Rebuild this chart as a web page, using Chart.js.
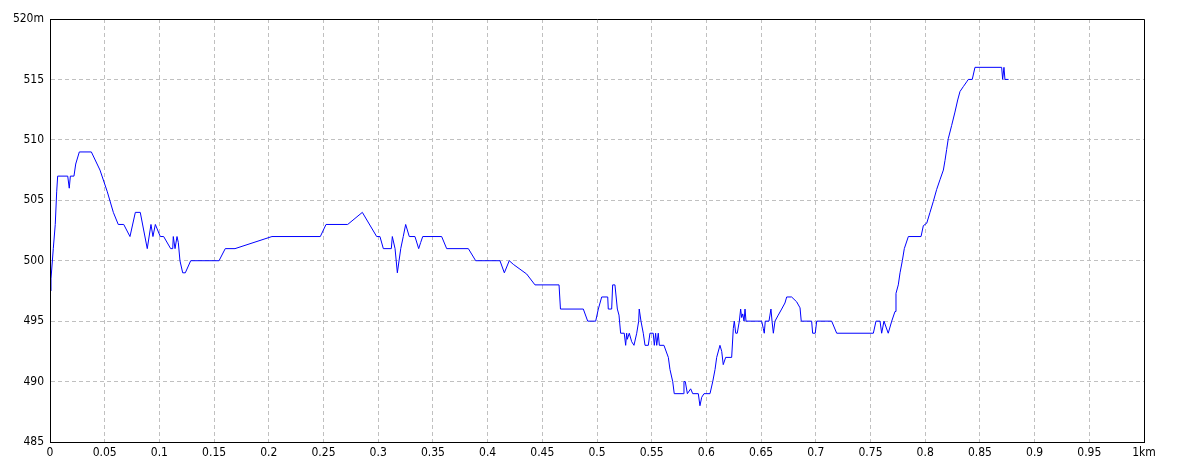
<!DOCTYPE html>
<html>
<head>
<meta charset="utf-8">
<script src="https://cdn.jsdelivr.net/npm/chart.js@4/dist/chart.umd.min.js"></script>
<style>
  html, body { margin: 0; padding: 0; background: #fff; }
  canvas { display: block; }
</style>
</head>
<body>
<canvas id="profileChart" width="1184" height="473"></canvas>
<script>
// distance along the track (km)
const distKm = [
  0.0003, 0.0009, 0.0030, 0.0048, 0.0061, 0.0070, 0.0162, 0.0176, 0.0186, 0.0219,
  0.0235, 0.0268, 0.0378, 0.0457, 0.0524, 0.0579, 0.0624, 0.0674, 0.0731, 0.0780,
  0.0825, 0.0889, 0.0923, 0.0941, 0.0963, 0.1008, 0.1039, 0.1103, 0.1122, 0.1127,
  0.1143, 0.1161, 0.1173, 0.1188, 0.1213, 0.1237, 0.1286, 0.1545, 0.1602, 0.1691,
  0.2029, 0.2471, 0.2523, 0.2721, 0.2855, 0.2986, 0.3016, 0.3047, 0.3120, 0.3129,
  0.3154, 0.3175, 0.3206, 0.3229, 0.3251, 0.3284, 0.3336, 0.3370, 0.3388, 0.3407,
  0.3580, 0.3626, 0.3824, 0.3891, 0.4113, 0.4153, 0.4198, 0.4235, 0.4296, 0.4357,
  0.4433, 0.4653, 0.4666, 0.4875, 0.4915, 0.4988, 0.5012, 0.5043, 0.5098, 0.5103,
  0.5134, 0.5143, 0.5164, 0.5186, 0.5201, 0.5216, 0.5249, 0.5262, 0.5271, 0.5277,
  0.5295, 0.5317, 0.5338, 0.5363, 0.5381, 0.5386, 0.5402, 0.5423, 0.5439, 0.5469,
  0.5484, 0.5514, 0.5524, 0.5536, 0.5546, 0.5560, 0.5570, 0.5612, 0.5652, 0.5667,
  0.5692, 0.5706, 0.5789, 0.5795, 0.5807, 0.5826, 0.5856, 0.5875, 0.5926, 0.5941,
  0.5957, 0.5978, 0.6033, 0.6058, 0.6079, 0.6094, 0.6124, 0.6140, 0.6154, 0.6176,
  0.6231, 0.6246, 0.6255, 0.6268, 0.6282, 0.6301, 0.6313, 0.6322, 0.6332, 0.6344,
  0.6353, 0.6362, 0.6505, 0.6520, 0.6529, 0.6538, 0.6572, 0.6581, 0.6590, 0.6600,
  0.6612, 0.6627, 0.6657, 0.6688, 0.6718, 0.6734, 0.6779, 0.6825, 0.6856, 0.6867,
  0.6962, 0.6971, 0.6995, 0.7008, 0.7145, 0.7191, 0.7526, 0.7550, 0.7587, 0.7602,
  0.7623, 0.7662, 0.7694, 0.7724, 0.7733, 0.7754, 0.7770, 0.7791, 0.7809, 0.7846,
  0.7962, 0.7983, 0.8014, 0.8044, 0.8074, 0.8105, 0.8135, 0.8166, 0.8181, 0.8196,
  0.8211, 0.8242, 0.8272, 0.8297, 0.8318, 0.8348, 0.8379, 0.8394, 0.8430, 0.8455,
  0.8699, 0.8708, 0.8720, 0.8729, 0.8762
];

// elevation (m)
const elevM = [
  497.5, 498.5, 501, 503, 505.7, 507, 507, 506, 507, 507,
  508, 509, 509, 507.5, 505.7, 504, 503, 503, 502, 504,
  504, 501, 503, 502, 503, 502, 502, 501, 501, 502,
  501, 502, 501.5, 500, 499, 499, 500, 500, 501, 501,
  502, 502, 503, 503, 504, 502, 502, 501, 501, 502,
  501, 499, 501, 502, 503, 502, 502, 501, 501.5, 502,
  502, 501, 501, 500, 500, 499, 500, 499.7, 499.3, 498.9,
  498, 498, 496, 496, 495, 495, 496, 497, 497, 496,
  496, 498, 498, 496, 495.5, 494, 494, 493, 494, 493.5,
  494, 493.3, 493, 494, 495, 496, 495, 494, 493, 493,
  494, 494, 493, 494, 493, 494, 493, 493, 492, 491,
  490, 489, 489, 490, 490, 489, 489.4, 489, 489, 488,
  488.7, 489, 489, 490, 491, 492, 493, 492.5, 491.4, 492,
  492, 494.4, 495, 494, 494, 495, 496, 495.3, 495.6, 495,
  496, 495, 495, 494.4, 494, 495, 495, 495.5, 496, 495,
  494, 495, 495.5, 496, 496.5, 497, 497, 496.6, 496.1, 495,
  495, 494, 494, 495, 495, 494, 494, 495, 495, 494,
  495, 494, 495, 495.8, 497.3, 498, 499, 500, 501, 502,
  502, 502.9, 503.1, 504, 504.9, 505.9, 506.7, 507.5, 508.3, 509.2,
  510.1, 511.2, 512.3, 513.3, 514, 514.4, 514.8, 515, 515, 516,
  516, 515, 516, 515, 515
];

const xMin = 0, xMax = 1, xStep = 0.05;
const yMin = 485, yMax = 520, yStep = 5;

const labelFont = { family: '"Liberation Sans Narrow", "DejaVu Sans Condensed", sans-serif', size: 12 };

// top/right frame around the plot
const framePlugin = {
  id: 'frame',
  afterDraw(chart) {
    const { ctx, chartArea: a } = chart;
    ctx.save();
    ctx.strokeStyle = '#000';
    ctx.lineWidth = 1;
    ctx.beginPath();
    ctx.rect(a.left + 0.5, a.top + 0.5, a.right - a.left, a.bottom - a.top);
    ctx.stroke();
    ctx.restore();
  }
};

const fmt = (v) => String(Number(v.toFixed(2)));

new Chart(document.getElementById('profileChart'), {
  type: 'scatter',
  data: {
    datasets: [{
      data: distKm.map((d, i) => ({ x: d, y: elevM[i] })),
      showLine: true,
      borderColor: '#0000ff',
      borderWidth: 1,
      pointRadius: 0,
      tension: 0,
      fill: false
    }]
  },
  options: {
    responsive: false,
    animation: false,
    layout: { padding: { top: 19, right: 40, left: 0, bottom: 0 } },
    plugins: {
      legend: { display: false },
      tooltip: { enabled: false }
    },
    scales: {
      x: {
        type: 'linear',
        min: xMin,
        max: xMax,
        afterFit: (s) => { s.height = 31; },
        ticks: {
          stepSize: xStep,
          color: '#000',
          font: labelFont,
          padding: 4,
          maxRotation: 0,
          autoSkip: false,
          callback: (v) => (v === xMax ? '1km' : fmt(v))
        },
        grid: { color: '#c0c0c0', drawTicks: false, lineWidth: 1 },
        border: { display: true, color: '#000', dash: [4, 3] }
      },
      y: {
        type: 'linear',
        min: yMin,
        max: yMax,
        afterFit: (s) => { s.width = 50; },
        ticks: {
          stepSize: yStep,
          color: '#000',
          font: labelFont,
          padding: 6,
          callback: (v) => (v === yMax ? '520m' : String(v))
        },
        grid: { color: '#c0c0c0', drawTicks: false, lineWidth: 1 },
        border: { display: true, color: '#000', dash: [4, 3] }
      }
    }
  },
  plugins: [framePlugin]
});
</script>
</body>
</html>
